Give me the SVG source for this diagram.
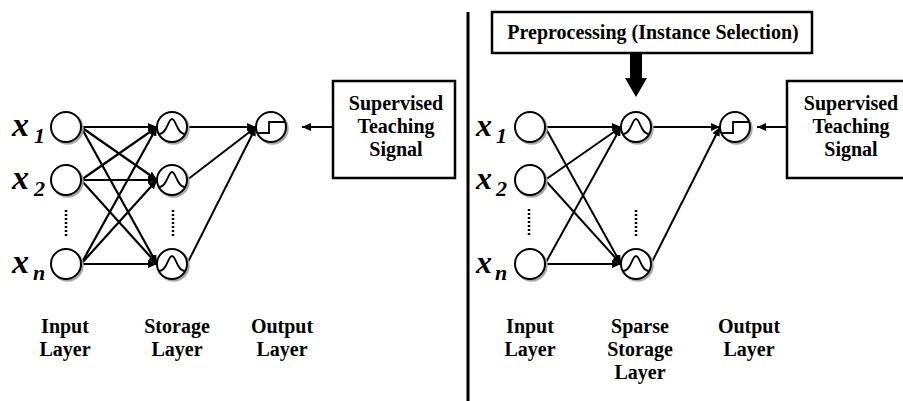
<svg xmlns="http://www.w3.org/2000/svg" width="903" height="401" viewBox="0 0 903 401">
<style>
.sh{fill:none;stroke:#a8a8a8;stroke-width:2.5}
.nd{fill:#fff;stroke:#000;stroke-width:2}
.fn{fill:none;stroke:#000;stroke-width:1.8}
.dots{stroke:#000;stroke-width:2.5;stroke-dasharray:2 2}
.box{fill:#fff;stroke:#000;stroke-width:2.5}
.t{font-family:'Liberation Serif','DejaVu Serif',serif;font-weight:700;font-size:20px;fill:#000;text-anchor:middle}
.xv{font-family:'Liberation Serif','DejaVu Serif',serif;font-weight:700;font-style:italic;fill:#000}
.c{stroke:#000;stroke-width:2.2;fill:none;marker-end:url(#ah)}
.c2{stroke:#000;stroke-width:2;fill:none;marker-end:url(#ah)}
</style>
<defs>
<marker id="ah" markerUnits="userSpaceOnUse" markerWidth="9" markerHeight="8" refX="9" refY="4" orient="auto">
<path d="M0,0 L9,4 L0,8 z" fill="#000"/>
</marker>
<g id="inp"><circle class="sh" cx="1.5" cy="1.5" r="15"/><circle class="nd" r="15"/></g>
<g id="sto"><circle class="sh" cx="1.5" cy="1.5" r="15"/><circle class="nd" r="15"/><path class="fn" d="M-13,7 C-5,7 -4,-8 0,-8 C4,-8 5,7 13,7"/></g>
<g id="out"><circle class="sh" cx="1.5" cy="1.5" r="15"/><circle class="nd" r="15"/><path class="fn" d="M-13,6 L-2,6 L-2,-5 L14,-5"/></g>
</defs>

<g id="divider"><line x1="468" y1="12" x2="468" y2="401" stroke="#000" stroke-width="3"/></g>

<g id="connectors">
<line class="c" x1="81" y1="127" x2="157" y2="127"/>
<line class="c" x1="81" y1="127" x2="157" y2="180"/>
<line class="c" x1="81" y1="127" x2="157" y2="264"/>
<line class="c" x1="81" y1="180" x2="157" y2="127"/>
<line class="c" x1="81" y1="180" x2="157" y2="180"/>
<line class="c" x1="81" y1="180" x2="157" y2="264"/>
<line class="c" x1="81" y1="264" x2="157" y2="127"/>
<line class="c" x1="81" y1="264" x2="157" y2="180"/>
<line class="c" x1="81" y1="264" x2="157" y2="264"/>
<line class="c2" x1="187" y1="127" x2="256" y2="127"/>
<line class="c2" x1="187" y1="180" x2="256" y2="127"/>
<line class="c2" x1="187" y1="264" x2="256" y2="127"/>
<line class="c2" x1="333" y1="127" x2="302" y2="127"/>
<line class="c2" x1="545" y1="127" x2="621" y2="127"/>
<line class="c2" x1="545" y1="127" x2="621" y2="264"/>
<line class="c2" x1="545" y1="180" x2="621" y2="127"/>
<line class="c2" x1="545" y1="180" x2="621" y2="264"/>
<line class="c2" x1="545" y1="264" x2="621" y2="127"/>
<line class="c2" x1="545" y1="264" x2="621" y2="264"/>
<line class="c2" x1="651" y1="127" x2="720" y2="127"/>
<line class="c2" x1="651" y1="264" x2="720" y2="127"/>
<line class="c2" x1="787" y1="127" x2="757" y2="127"/>
<path d="M630,53 L642,53 L642,78 L647,78 L636,97 L625,78 L630,78 z" fill="#000"/>
</g>

<g id="L-x1"><use href="#inp" x="66" y="127"/><text class="xv" x="12" y="136" font-size="34">x</text><text class="xv" x="34" y="143" font-size="22">1</text></g>
<g id="L-x2"><use href="#inp" x="66" y="180"/><text class="xv" x="12" y="189" font-size="34">x</text><text class="xv" x="34" y="196" font-size="22">2</text></g>
<g id="L-xdots"><line class="dots" x1="66" y1="210" x2="66" y2="238"/></g>
<g id="L-xn"><use href="#inp" x="66" y="264"/><text class="xv" x="12" y="273" font-size="34">x</text><text class="xv" x="33" y="280" font-size="22">n</text></g>
<g id="L-s1"><use href="#sto" x="172" y="127"/></g>
<g id="L-s2"><use href="#sto" x="172" y="180"/></g>
<g id="L-sdots"><line class="dots" x1="173" y1="210" x2="173" y2="238"/></g>
<g id="L-sn"><use href="#sto" x="172" y="264"/></g>
<g id="L-out"><use href="#out" x="271" y="127"/></g>
<g id="L-teach"><rect class="box" x="333" y="81" width="122" height="97"/>
<text class="t" x="396" y="110">Supervised</text><text class="t" x="396" y="133">Teaching</text><text class="t" x="396" y="156">Signal</text></g>
<g id="L-labels">
<text class="t" x="65" y="333">Input</text><text class="t" x="65" y="356">Layer</text>
<text class="t" x="177" y="333">Storage</text><text class="t" x="177" y="356">Layer</text>
<text class="t" x="282" y="333">Output</text><text class="t" x="282" y="356">Layer</text>
</g>

<g id="R-pre"><rect class="box" x="492" y="12" width="320" height="41"/><text class="t" x="653" y="39">Preprocessing (Instance Selection)</text></g>
<g id="R-x1"><use href="#inp" x="530" y="127"/><text class="xv" x="476" y="136" font-size="32">x</text><text class="xv" x="496" y="143" font-size="22">1</text></g>
<g id="R-x2"><use href="#inp" x="530" y="180"/><text class="xv" x="476" y="189" font-size="32">x</text><text class="xv" x="496" y="196" font-size="22">2</text></g>
<g id="R-xdots"><line class="dots" x1="529" y1="209" x2="529" y2="237"/></g>
<g id="R-xn"><use href="#inp" x="530" y="264"/><text class="xv" x="476" y="273" font-size="32">x</text><text class="xv" x="495" y="280" font-size="22">n</text></g>
<g id="R-s1"><use href="#sto" x="636" y="127"/></g>
<g id="R-sdots"><line class="dots" x1="636" y1="210" x2="636" y2="238"/></g>
<g id="R-sn"><use href="#sto" x="636" y="264"/></g>
<g id="R-out"><use href="#out" x="735" y="127"/></g>
<g id="R-teach"><rect class="box" x="787" y="81" width="130" height="97"/>
<text class="t" x="851" y="110">Supervised</text><text class="t" x="851" y="133">Teaching</text><text class="t" x="851" y="156">Signal</text></g>
<g id="R-labels">
<text class="t" x="530" y="333">Input</text><text class="t" x="530" y="356">Layer</text>
<text class="t" x="640" y="333">Sparse</text><text class="t" x="640" y="356">Storage</text><text class="t" x="640" y="379">Layer</text>
<text class="t" x="749" y="333">Output</text><text class="t" x="749" y="356">Layer</text>
</g>
</svg>
